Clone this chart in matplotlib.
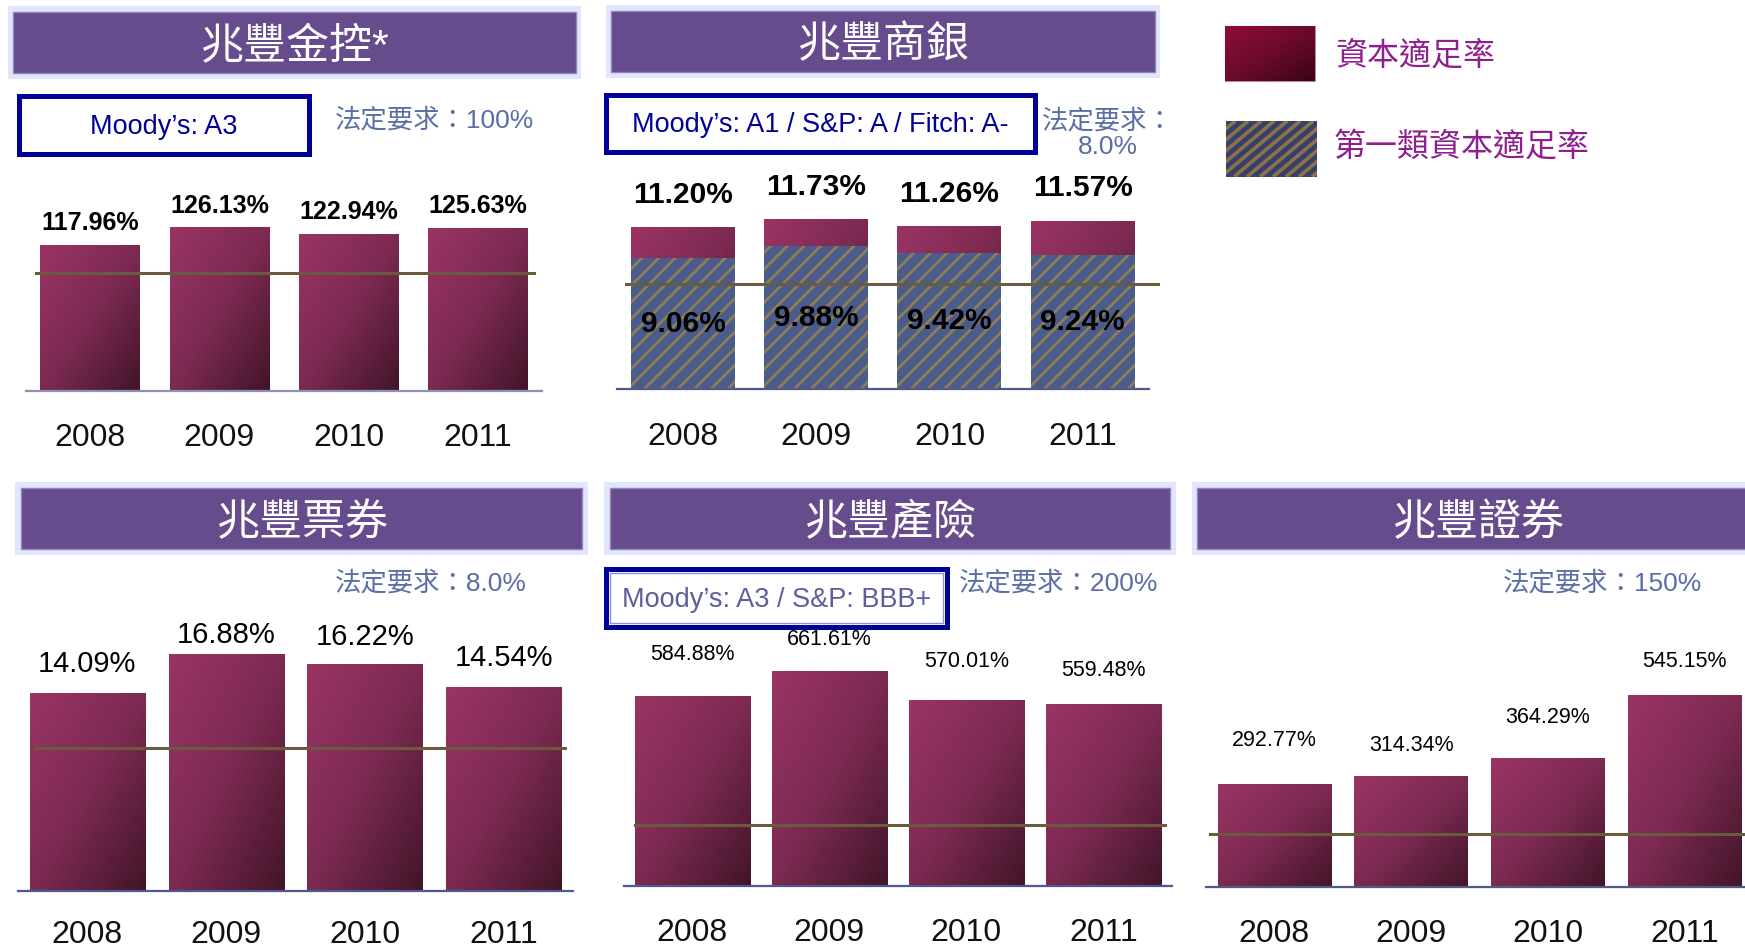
import matplotlib

matplotlib.use("Agg")
import matplotlib.pyplot as plt
import numpy as np
from matplotlib.colors import LinearSegmentedColormap
from matplotlib.patches import Rectangle

plt.rcParams["font.family"] = ["Liberation Sans", "Noto Sans CJK TC"]
plt.rcParams["hatch.linewidth"] = 2.0

# ---- data ----
years = ["2008", "2009", "2010", "2011"]
holding_car = [117.96, 126.13, 122.94, 125.63]
bank_car = [11.20, 11.73, 11.26, 11.57]
bank_tier1 = [9.06, 9.88, 9.42, 9.24]
bills_car = [14.09, 16.88, 16.22, 14.54]
insurance_car = [584.88, 661.61, 570.01, 559.48]
securities_car = [292.77, 314.34, 364.29, 545.15]

panel_titles = ["兆豐金控*", "兆豐商銀", "兆豐票券", "兆豐產險", "兆豐證券"]
legal_text = ["法定要求：100%", "法定要求：\n8.0%", "法定要求：8.0%",
              "法定要求：200%", "法定要求：150%"]
# level at which the brown guide line is drawn on the slide
guide_levels = [105.1, 7.24, 10.19, 185.8, 150]
ratings = ["Moody’s: A3", "Moody’s: A1 / S&P: A / Fitch: A-", None,
           "Moody’s: A3 / S&P: BBB+", None]
legend_labels = ["資本適足率", "第一類資本適足率"]

W, H = 1745, 949
fig = plt.figure(figsize=(W / 100, H / 100), dpi=100)
fig.patch.set_facecolor("white")

bg = fig.add_axes([0, 0, 1, 1])
bg.set_xlim(0, W)
bg.set_ylim(H, 0)
bg.axis("off")

bar_cmap = LinearSegmentedColormap.from_list("bar", ["#9a3465", "#7d2a52", "#421529"])
legend_cmap = LinearSegmentedColormap.from_list("leg", ["#900d3a", "#6c0a2d", "#3a0417"])

yy, xx = np.mgrid[0:1:80j, 0:1:80j]
GRAD = (xx + (1 - yy)) / 2


def gradient_fill(ax, bars, cmap):
    ymin = ax.get_ylim()[0]
    for bar in bars:
        x0, y0 = bar.get_xy()
        w, h = bar.get_width(), bar.get_height()
        lo = max(y0, ymin)
        im = ax.imshow(GRAD, extent=[x0, x0 + w, lo, y0 + h], origin="lower",
                       cmap=cmap, aspect="auto", interpolation="bilinear",
                       zorder=bar.get_zorder() + 0.1)
        im.set_clip_path(bar)


def px_axes(x0, x1, top, base, spine_color):
    ax = fig.add_axes([x0 / W, 1 - base / H, (x1 - x0) / W, (base - top) / H])
    ax.patch.set_alpha(0)
    for s in ("top", "left", "right"):
        ax.spines[s].set_visible(False)
    ax.spines["bottom"].set_color(spine_color)
    ax.spines["bottom"].set_linewidth(1.6)
    ax.set_yticks([])
    return ax


def header(x0, x1, y0, y1, title):
    bg.add_patch(Rectangle((x0 - 5.5, y0 - 6), x1 - x0 + 11, y1 - y0 + 12,
                           facecolor="#e0e6fb", edgecolor="none"))
    bg.add_patch(Rectangle((x0, y0), x1 - x0, y1 - y0, facecolor="#664b8d",
                           edgecolor="#9384bf", linewidth=1))
    bg.text((x0 + x1) / 2, (y0 + y1) / 2 + 5, title, ha="center", va="center",
            fontsize=31, color="white")


def rating_box(x0, x1, y0, y1, text, color, inner=False):
    bg.add_patch(Rectangle((x0, y0), x1 - x0, y1 - y0, facecolor="white",
                           edgecolor="#000099", linewidth=3.6))
    if inner:
        bg.add_patch(Rectangle((x0 + 4, y0 + 4), x1 - x0 - 8, y1 - y0 - 8,
                               facecolor="none", edgecolor="#8c90d6", linewidth=1))
    bg.text((x0 + x1) / 2, (y0 + y1) / 2 + 2, text, ha="center", va="center",
            fontsize=19.5, color=color)


# panel layout: axes x-range, top, baseline, ylim, bar width,
# label offsets (px above bar top), label size/weight, year label pad
layout = [
    dict(ax=(25.6, 542.3, 160, 390.7), ylim=(52.0, 156.4), xmax=3.5, width=0.77,
         off=[22, 21, 22, 22], fs=18, fw="bold", guide=(0.021, 0.984),
         spine="#8a93b5", pad=23.5),
    dict(ax=(616.5, 1149.2, 160, 389.3), ylim=(0, 15.81), xmax=3.5, width=0.78,
         off=[32, 32, 32, 33], fs=21.5, fw="bold", guide=(0.018, 1.016),
         spine="#4f5a88", pad=23.5),
    dict(ax=(18.0, 572.9, 600, 890.7), ylim=(0, 20.76), xmax=3.5, width=0.83,
         off=[29, 19, 27, 29], fs=21, fw="normal", guide=(0.03, 0.986),
         spine="#4f5a88", pad=21),
    dict(ax=(623.7, 1171.8, 600, 885.7), ylim=(0, 879), xmax=3.5, width=0.84,
         off=[41, 31, 39, 33], fs=15.5, fw="normal", guide=(0.02, 0.988),
         spine="#4f5a88", pad=23.5),
    dict(ax=(1205.9, 1745.0, 600, 886.7), ylim=(0, 814.5), xmax=3.44, width=0.83,
         off=[43, 31, 41, 33], fs=15.5, fw="normal", guide=(0.008, 1.0),
         spine="#4f5a88", pad=23.5),
]
series = [holding_car, bank_car, bills_car, insurance_car, securities_car]

# headers
header(13.4, 576.0, 12.3, 73, panel_titles[0])
header(611.5, 1154.9, 10.7, 71.7, panel_titles[1])
header(21.0, 582.5, 488.3, 549.3, panel_titles[2])
header(609.6, 1170.2, 488.3, 549.3, panel_titles[3])
header(1197.1, 1760, 488.3, 549.3, panel_titles[4])

# rating boxes
rating_box(19.0, 309.4, 95.8, 153.5, ratings[0], "#000099")
rating_box(606.3, 1034.9, 94.8, 151.8, ratings[1], "#000099")
rating_box(606.3, 946.9, 569.2, 626.5, ratings[3], "#5c5f9c", inner=True)

# legal requirement notes
legal_color = "#5a6ea5"
bg.text(334.9, 120, legal_text[0], ha="left", va="center", fontsize=19, color=legal_color)
bg.text(1107.5, 133.7, legal_text[1], ha="center", va="center", fontsize=19,
        color=legal_color, linespacing=1.05)
bg.text(334.9, 583, legal_text[2], ha="left", va="center", fontsize=19, color=legal_color)
bg.text(958.6, 583, legal_text[3], ha="left", va="center", fontsize=19, color=legal_color)
bg.text(1502.6, 583, legal_text[4], ha="left", va="center", fontsize=19, color=legal_color)

# legend
leg_red = Rectangle((1225.4, 26), 89.6, 55.3, facecolor="#6c0a2d", edgecolor="#c08aa0",
                    linewidth=0.8)
bg.add_patch(leg_red)
im = bg.imshow(GRAD, extent=[1225.4, 1315.0, 81.3, 26], origin="lower", cmap=legend_cmap,
               aspect="auto", interpolation="bilinear", zorder=leg_red.get_zorder() + 0.1)
im.set_clip_path(leg_red)
lx, ly, lw, lh = 1226.1, 121, 91, 55.7
leg_hatch = Rectangle((lx, ly), lw, lh, facecolor="#35416b", edgecolor="none")
bg.add_patch(leg_hatch)
for s in np.arange(lx - 70, lx + lw, 13):
    (stripe,) = bg.plot([s, s + 66], [ly + lh, ly], color="#8c7248", linewidth=2.6,
                        solid_capstyle="butt")
    stripe.set_clip_path(leg_hatch)
bg.text(1335.5, 56, legend_labels[0], ha="left", va="center", fontsize=23, color="#8e1f8e")
bg.text(1333.3, 147, legend_labels[1], ha="left", va="center", fontsize=23, color="#8e1f8e")
bg.set_xlim(0, W)
bg.set_ylim(H, 0)

# bar panels
x = np.arange(len(years))
for k, (vals, spec) in enumerate(zip(series, layout)):
    ax = px_axes(*spec["ax"], spec["spine"])
    ax.set_xlim(-0.5, spec["xmax"])
    ax.set_ylim(*spec["ylim"])
    bars = ax.bar(x, vals, width=spec["width"], color="#7d2a52", linewidth=0, zorder=2)
    gradient_fill(ax, bars, bar_cmap)
    if k == 1:
        ax.bar(x, bank_tier1, width=spec["width"], color="#4b5b8c", edgecolor="#8c7e55",
               hatch="//", linewidth=0, zorder=2.5)
        for i, t in enumerate(bank_tier1):
            ax.text(i, t / 2, f"{t:.2f}%", ha="center", va="center", fontsize=21.5,
                    fontweight="bold", color="black", zorder=4)
    g0, g1 = spec["guide"]
    ax.axhline(guide_levels[k], g0, g1, color="#6b5b3e", linewidth=2.2, zorder=3,
               clip_on=False)
    for i, v in enumerate(vals):
        ax.annotate(f"{v:.2f}%", (i, v), xytext=(0, spec["off"][i]),
                    textcoords="offset pixels", ha="center", va="center",
                    fontsize=spec["fs"], fontweight=spec["fw"], color="black",
                    annotation_clip=False, zorder=4)
    ax.set_xlim(-0.5, spec["xmax"])
    ax.set_ylim(*spec["ylim"])
    ax.set_xticks(x, years)
    ax.tick_params(axis="x", length=0, pad=spec["pad"], labelsize=23, labelcolor="#111111")

fig.savefig("out.png", dpi=100)
